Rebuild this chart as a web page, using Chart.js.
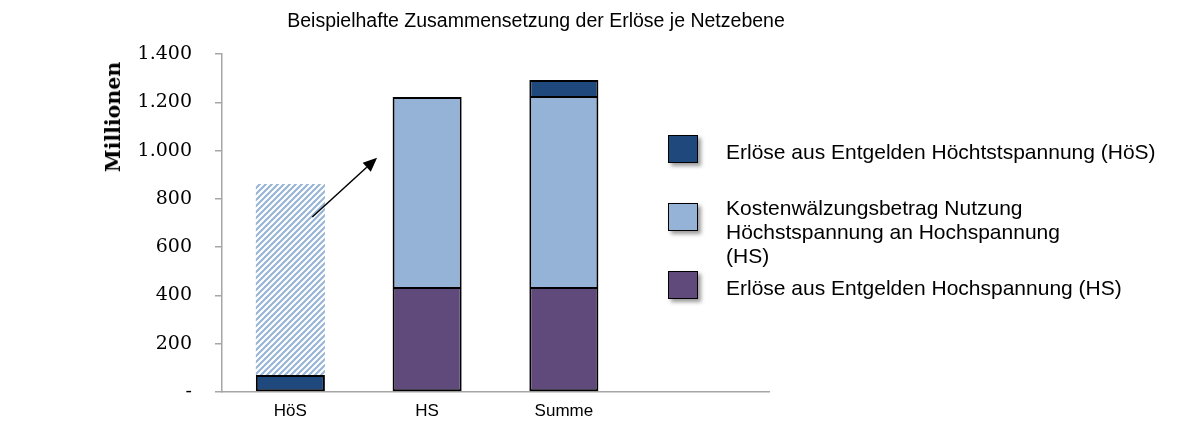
<!DOCTYPE html>
<html lang="de">
<head>
<meta charset="utf-8">
<title>Beispielhafte Zusammensetzung der Erlöse je Netzebene</title>
<script src="https://cdn.jsdelivr.net/npm/chart.js@4/dist/chart.umd.min.js"></script>
<style>
  html, body { margin: 0; padding: 0; background: #fff; }
  #wrap { position: relative; width: 1180px; height: 433px; }
  #chart { position: absolute; left: 0; top: 0; }
  .title {
    position: absolute; left: 0; top: 9px; width: 1072px;
    text-align: center; font: 19.5px Arial, "Liberation Sans", sans-serif;
    line-height: 22px; color: #000;
  }
  .ytitle {
    position: absolute; left: 113px; top: 117px;
    transform: translate(-50%, -50%) rotate(-90deg);
    font: bold 20.5px "DejaVu Serif", serif; white-space: nowrap; color: #000;
  }
  .legend-box {
    position: absolute; left: 668px; width: 28px; height: 26px;
    border: 1.5px solid #000; box-shadow: 3px 3px 4px rgba(0,0,0,0.4);
  }
  .legend-text {
    position: absolute; left: 726px; font: 21px Arial, "Liberation Sans", sans-serif;
    line-height: 24px; color: #000; white-space: nowrap;
  }
</style>
</head>
<body>
<div id="wrap">
  <canvas id="chart" width="1180" height="433"></canvas>
  <div class="title">Beispielhafte Zusammensetzung der Erlöse je Netzebene</div>
  <div class="ytitle">Millionen</div>
  <div id="legend"></div>
</div>
<script>
// --- data (Mio. EUR) ---
const categories = ["HöS", "HS", "Summe", ""];
const erloeseHS = [null, 431, 431, null];          // Erlöse aus Entgelden Hochspannung
const kostenwaelzung = [null, 791, 791, null];     // Kostenwälzungsbetrag HöS an HS
const erloeseHoeS = [70, null, 70, null];          // Erlöse aus Entgelden Höchstspannung
const weitergewaelzt = [792, null, null, null];    // an HS weitergewälzter Anteil (schraffiert)
const yTicks = [0, 200, 400, 600, 800, 1000, 1200, 1400];

const COLORS = {
  hoes: "#1f497d",
  kwb: "#95b3d7",
  hs: "#604a7b",
  axis: "#a6a6a6",
};

const legendItems = [
  { color: COLORS.hoes, lines: ["Erlöse aus Entgelden Höchtstspannung (HöS)"], box: 135, top: 140 },
  { color: COLORS.kwb, lines: ["Kostenwälzungsbetrag Nutzung", "Höchstspannung an Hochspannung", "(HS)"], box: 203, top: 196 },
  { color: COLORS.hs, lines: ["Erlöse aus Entgelden Hochspannung (HS)"], box: 271, top: 276 },
];

// arrow from hatched bar to the HS bar (category index + fraction of category width, value)
const arrowFrom = { cat: 0, offset: 0.16, value: 725 };
const arrowTo = { cat: 1, offset: -0.366, value: 970 };

function hatchPattern(color) {
  const s = 6;
  const c = document.createElement("canvas");
  c.width = s; c.height = s;
  const g = c.getContext("2d");
  g.strokeStyle = color;
  g.lineWidth = 2;
  g.beginPath();
  g.moveTo(0, s); g.lineTo(s, 0);
  g.moveTo(-1, 1); g.lineTo(1, -1);
  g.moveTo(s - 1, s + 1); g.lineTo(s + 1, s - 1);
  g.stroke();
  return g.createPattern(c, "repeat");
}

const legendEl = document.getElementById("legend");
legendItems.forEach((it) => {
  const b = document.createElement("div");
  b.className = "legend-box";
  b.style.top = it.box + "px";
  b.style.background = it.color;
  legendEl.appendChild(b);
  const t = document.createElement("div");
  t.className = "legend-text";
  t.style.top = it.top + "px";
  t.innerHTML = it.lines.join("<br>");
  legendEl.appendChild(t);
});

const arrowPlugin = {
  id: "arrow",
  afterDatasetsDraw(chart) {
    const { ctx, scales } = chart;
    const x = scales.x, y = scales.y;
    const cw = x.getPixelForValue(1) - x.getPixelForValue(0);
    const x1 = x.getPixelForValue(arrowFrom.cat) + arrowFrom.offset * cw;
    const y1 = y.getPixelForValue(arrowFrom.value);
    const x2 = x.getPixelForValue(arrowTo.cat) + arrowTo.offset * cw;
    const y2 = y.getPixelForValue(arrowTo.value);
    const ang = Math.atan2(y2 - y1, x2 - x1);
    const hl = 14, hw = 6;
    const bx = x2 - hl * Math.cos(ang), by = y2 - hl * Math.sin(ang);
    ctx.save();
    ctx.strokeStyle = "#000";
    ctx.fillStyle = "#000";
    ctx.lineWidth = 1.5;
    ctx.beginPath();
    ctx.moveTo(x1, y1);
    ctx.lineTo(bx, by);
    ctx.stroke();
    ctx.beginPath();
    ctx.moveTo(x2, y2);
    ctx.lineTo(bx + hw * Math.sin(ang), by - hw * Math.cos(ang));
    ctx.lineTo(bx - hw * Math.sin(ang), by + hw * Math.cos(ang));
    ctx.closePath();
    ctx.fill();
    ctx.restore();
  },
};

// bordered segments: only the first three datasets; seams get 1px from each side
const BORDERED = 3;
function hasAbove(ctx) {
  const ds = ctx.chart.data.datasets;
  for (let k = ctx.datasetIndex + 1; k < BORDERED; k++) {
    if (ds[k].data[ctx.dataIndex] != null) return true;
  }
  return false;
}
function hasBelow(ctx) {
  const ds = ctx.chart.data.datasets;
  for (let k = ctx.datasetIndex - 1; k >= 0; k--) {
    if (ds[k].data[ctx.dataIndex] != null) return true;
  }
  return false;
}

const barBase = {
  borderColor: "#000",
  borderWidth: (ctx) => ({
    top: hasAbove(ctx) ? 1 : 2,
    bottom: hasBelow(ctx) ? 1 : 2,
    left: 2,
    right: 2,
  }),
  borderSkipped: false,
  barPercentage: 0.505,
  categoryPercentage: 1,
};

new Chart(document.getElementById("chart"), {
  type: "bar",
  data: {
    labels: categories,
    datasets: [
      { ...barBase, label: "Erlöse aus Entgelden Hochspannung (HS)", data: erloeseHS, backgroundColor: COLORS.hs },
      { ...barBase, label: "Kostenwälzungsbetrag Nutzung Höchstspannung an Hochspannung (HS)", data: kostenwaelzung, backgroundColor: COLORS.kwb },
      { ...barBase, label: "Erlöse aus Entgelden Höchtstspannung (HöS)", data: erloeseHoeS, backgroundColor: COLORS.hoes },
      { ...barBase, label: "weitergewälzt", data: weitergewaelzt, backgroundColor: hatchPattern(COLORS.kwb), borderWidth: 0 },
    ],
  },
  options: {
    responsive: false,
    animation: false,
    layout: { padding: { top: 54, right: 411, left: 0, bottom: 0 } },
    plugins: {
      legend: { display: false },
      title: { display: false },
      tooltip: { enabled: false },
    },
    scales: {
      x: {
        stacked: true,
        grid: { display: false, drawTicks: false },
        border: { display: true, color: COLORS.axis, width: 1.5 },
        ticks: { color: "#000", padding: 9, font: { family: "Arial, 'Liberation Sans', sans-serif", size: 17 } },
        afterFit: (s) => { s.height = 41; },
      },
      y: {
        stacked: true,
        min: 0,
        max: 1400,
        afterBuildTicks: (s) => { s.ticks = yTicks.map((v) => ({ value: v })); },
        grid: { drawOnChartArea: false, drawTicks: true, tickLength: 7, color: COLORS.axis, lineWidth: 1.5 },
        border: { display: true, color: COLORS.axis, width: 1.5 },
        ticks: {
          color: "#000",
          padding: 23,
          font: { family: "'DejaVu Serif', serif", size: 19 },
          callback: (v) => (v === 0 ? "-" : Number(v).toLocaleString("de-DE")),
        },
        afterFit: (s) => { s.width = 222; },
      },
    },
  },
  plugins: [arrowPlugin],
});
</script>
</body>
</html>
